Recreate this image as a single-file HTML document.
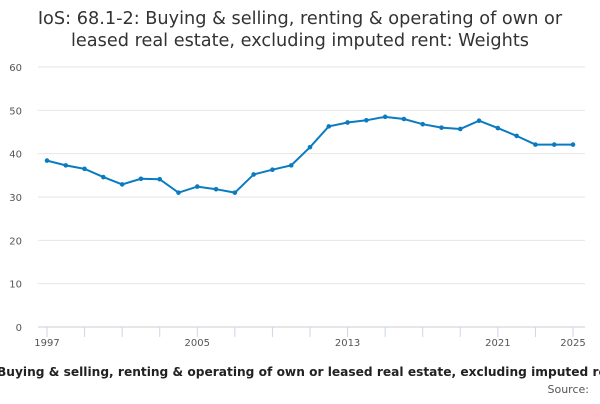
<!DOCTYPE html>
<html><head><meta charset="utf-8"><style>
body{margin:0;width:600px;height:400px;overflow:hidden;background:#fff;font-family:"DejaVu Sans",sans-serif}
svg text{font-family:"DejaVu Sans",sans-serif}
</style></head><body>
<svg width="600" height="400">
<text x="300" y="24" text-anchor="middle" font-size="17.7" fill="#333">IoS: 68.1-2: Buying &amp; selling, renting &amp; operating of own or</text>
<text x="300" y="46" text-anchor="middle" font-size="17.7" fill="#333">leased real estate, excluding imputed rent: Weights</text>
<g id="grid"></g><g id="xax"></g><g id="series"></g>
<text x="-3" y="376" text-anchor="start" font-size="12.2" font-weight="bold" fill="#222">Buying &amp; selling, renting &amp; operating of own or leased real estate, excluding imputed rent</text>
<text x="589" y="393" text-anchor="end" font-size="11" fill="#555">Source:</text>
</svg>
<script>
const years=[1997,1998,1999,2000,2001,2002,2003,2004,2005,2006,2007,2008,2009,2010,2011,2012,2013,2014,2015,2016,2017,2018,2019,2020,2021,2022,2023,2024,2025];
const values=[38.4,37.3,36.5,34.6,32.9,34.2,34.1,31.0,32.4,31.8,31.0,35.2,36.3,37.3,41.5,46.3,47.2,47.7,48.5,48.0,46.8,46.0,45.7,47.6,45.9,44.1,42.1,42.1,42.1];
const yTicks=[0,10,20,30,40,50,60];
const xLabels=[1997,2005,2013,2021,2025];
const NS="http://www.w3.org/2000/svg";
const X=y=>47+(y-1997)*(526/28);
const Y=v=>327-v*(260/60);
function mk(t,a,p){const e=document.createElementNS(NS,t);for(const k in a)e.setAttribute(k,a[k]);p.appendChild(e);return e;}
const g=document.getElementById('grid'),xa=document.getElementById('xax'),s=document.getElementById('series');
yTicks.forEach(v=>{
const l=mk('line',{x1:38,x2:585,y1:Y(v),y2:Y(v),stroke:v===0?'#ccc':'#e6e6e6'},g);


const t=mk('text',{x:22,y:Y(v)+4,'text-anchor':'end','font-size':10,fill:'#555'},g);t.textContent=v;


});
for(let y=1997;y<=2025;y+=2){
const l=mk('line',{x1:X(y),x2:X(y),y1:327,y2:337,stroke:'#ccd6eb'},xa);


}
xLabels.forEach(y=>{
const t=mk('text',{x:X(y),y:346,'text-anchor':'middle','font-size':10,fill:'#555'},xa);t.textContent=y;


});
const p=mk('polyline',{points:years.map((y,i)=>X(y)+','+Y(values[i])).join(' '),fill:'none',stroke:'#0a7bc1','stroke-width':2},s);


years.forEach((y,i)=>{
const c=mk('circle',{cx:X(y),cy:Y(values[i]),r:2.3,fill:'#0a7bc1'},s);


});
</script>
</body></html>
